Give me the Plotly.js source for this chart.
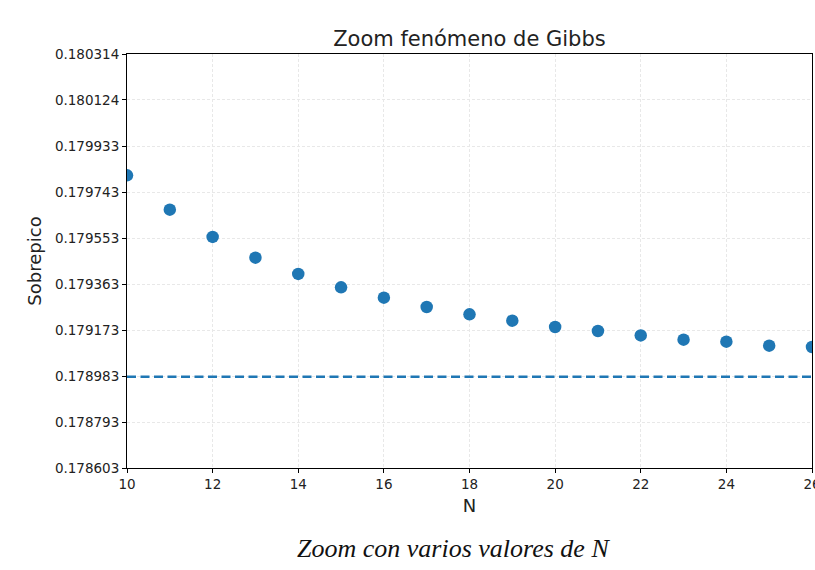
<!DOCTYPE html>
<html>
<head>
<meta charset="utf-8">
<script src="https://cdn.plot.ly/plotly-3.0.1.min.js"></script>
<style>html,body{margin:0;padding:0;background:#fff;}#chart{width:815px;height:570px;}</style>
</head>
<body>
<div id="chart"></div>
<script>
const N = [10,11,12,13,14,15,16,17,18,19,20,21,22,23,24,25,26];
const sobrepico = [0.1798125,0.1796708,0.1795579,0.1794723,0.1794050,0.1793496,0.1793070,0.1792685,0.1792380,0.1792119,0.1791859,0.1791693,0.1791511,0.1791334,0.1791251,0.1791086,0.1791032];
const gibbsLimit = 0.17898;
const yTickVals = [0.178603,0.178793,0.178983,0.179173,0.179363,0.179553,0.179743,0.179933,0.180124,0.180314];
const yTickText = ["0.178603","0.178793","0.178983","0.179173","0.179363","0.179553","0.179743","0.179933","0.180124","0.180314"];
const xTickVals = [10,12,14,16,18,20,22,24,26];

const blue = '#1f77b4';
const traces = [
  {x: [N[0], N[N.length-1]], y: [gibbsLimit, gibbsLimit], mode: 'lines', line: {color: blue, width: 2.5, dash: '9px,4.5px'}, hoverinfo: 'skip'},
  {x: N, y: sobrepico, mode: 'markers', marker: {color: blue, size: 12.5}, cliponaxis: true}
];
const axisCommon = {
  showline: true, linecolor: '#000', linewidth: 1, mirror: true,
  ticks: 'outside', ticklen: 4, tickcolor: '#000',
  showgrid: true, gridcolor: '#e8e8e8', griddash: '3px,2px', gridwidth: 1,
  zeroline: false, ticklabeloverflow: 'allow',
  tickfont: {family: 'DejaVu Sans', size: 13.5, color: '#222'}
};
const layout = {
  width: 815, height: 570,
  margin: {l: 127, r: 3, t: 54, b: 102},
  paper_bgcolor: '#fff', plot_bgcolor: '#fff',
  showlegend: false,
  font: {family: 'DejaVu Sans', color: '#222'},
  title: {text: 'Zoom fenómeno de Gibbs', font: {family: 'DejaVu Sans', size: 21, color: '#222'}, x: 0.576, xanchor: 'center', y: 0.933, yanchor: 'middle'},
  xaxis: Object.assign({}, axisCommon, {range: [10, 26], tickvals: xTickVals, title: {text: 'N', font: {family: 'DejaVu Sans', size: 18}, standoff: 8}}),
  yaxis: Object.assign({}, axisCommon, {range: [yTickVals[0], yTickVals[yTickVals.length-1]], tickvals: yTickVals, ticktext: yTickText, title: {text: 'Sobrepico', font: {family: 'DejaVu Sans', size: 18}, standoff: 8}}),
  annotations: [{
    text: '<i>Zoom con varios valores de N</i>', xref: 'paper', yref: 'paper',
    x: 0.477, y: -0.194, xanchor: 'center', yanchor: 'middle', showarrow: false,
    font: {family: 'Liberation Serif', size: 26, color: '#111'}
  }]
};
Plotly.newPlot('chart', traces, layout, {displayModeBar: false, staticPlot: true});
</script>
</body>
</html>
